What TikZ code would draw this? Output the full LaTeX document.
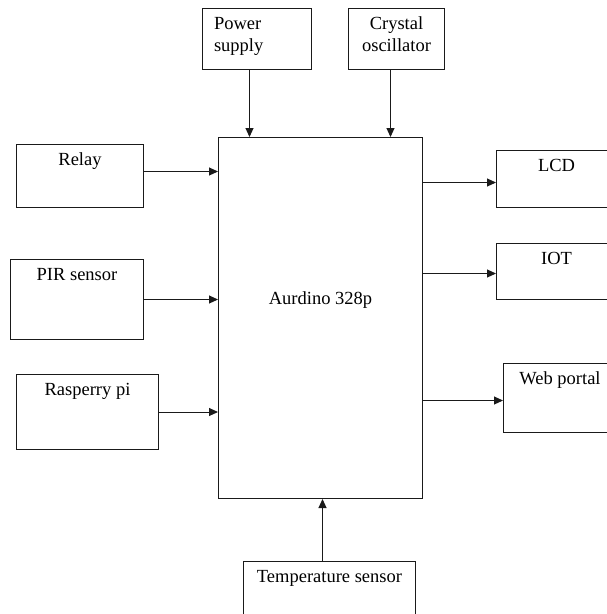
\documentclass[tikz,border=0pt]{standalone}
\usepackage{fontspec}
\setmainfont{Liberation Serif}
\usepackage{tikz}
\usetikzlibrary{arrows.meta,positioning,calc}
\definecolor{ink}{HTML}{1A1A1A}

\begin{document}
\begin{tikzpicture}[
  x=1pt, y=-1pt,
  font=\fontsize{18.5}{22}\selectfont,
  box/.style={draw=ink, line width=1pt, anchor=north west, inner sep=0pt, align=center, text height=20.5pt},
  arrow/.style={-{Triangle[length=9pt,width=8pt]}, draw=ink, line width=1pt}
]
\useasboundingbox (0,0) rectangle (607,614);
\clip (0,0) rectangle (607,614);
\node[box, minimum width=204pt, text height=167pt, text depth=194pt] (main) at (218,137) {Aurdino 328p};
\node[box, inner xsep=11.5pt, text width=86pt, align=left, text depth=40.5pt] (power) at (202,8) {Power\\supply};
\node[box, text width=96pt, text depth=40.5pt] (crystal) at (348,8) {Crystal\\oscillator};
\node[box, minimum width=127pt, text depth=42.5pt] (relay) at (16,144) {Relay};
\node[box, minimum width=133pt, text depth=59.5pt] (pir) at (10,259) {PIR sensor};
\node[box, minimum width=142pt, text depth=54.5pt] (rasp) at (16,374) {Rasperry pi};
\node[box, minimum width=120pt, text depth=36.5pt] (lcd) at (496,150) {LCD};
\node[box, minimum width=120pt, text depth=35.5pt] (iot) at (496,243) {IOT};
\node[box, minimum width=113pt, text depth=48.5pt] (web) at (503,363) {Web portal};
\node[box, minimum width=172pt, text depth=49.5pt] (temp) at (243,561) {Temperature sensor};
% inputs
\draw[arrow] ([xshift=-7.5pt]power.south) -- ([xshift=-7.5pt]power.south |- main.north);
\draw[arrow] ([xshift=-6pt]crystal.south) -- ([xshift=-6pt]crystal.south |- main.north);
\draw[arrow] ([yshift=4.5pt]relay.east) -- ([yshift=4.5pt]relay.east -| main.west);
\draw[arrow] (pir.east) -- (pir.east -| main.west);
\draw[arrow] (rasp.east) -- (rasp.east -| main.west);
\draw[arrow] ([xshift=-7pt]temp.north) -- ([xshift=-7pt]temp.north |- main.south);
% outputs
\draw[arrow] ([yshift=-3.5pt]lcd.west -| main.east) -- ([yshift=-3.5pt]lcd.west);
\draw[arrow] ([yshift=-2pt]iot.west -| main.east) -- ([yshift=-2pt]iot.west);
\draw[arrow] ([yshift=-2.5pt]web.west -| main.east) -- ([yshift=-2.5pt]web.west);
\end{tikzpicture}
\end{document}
